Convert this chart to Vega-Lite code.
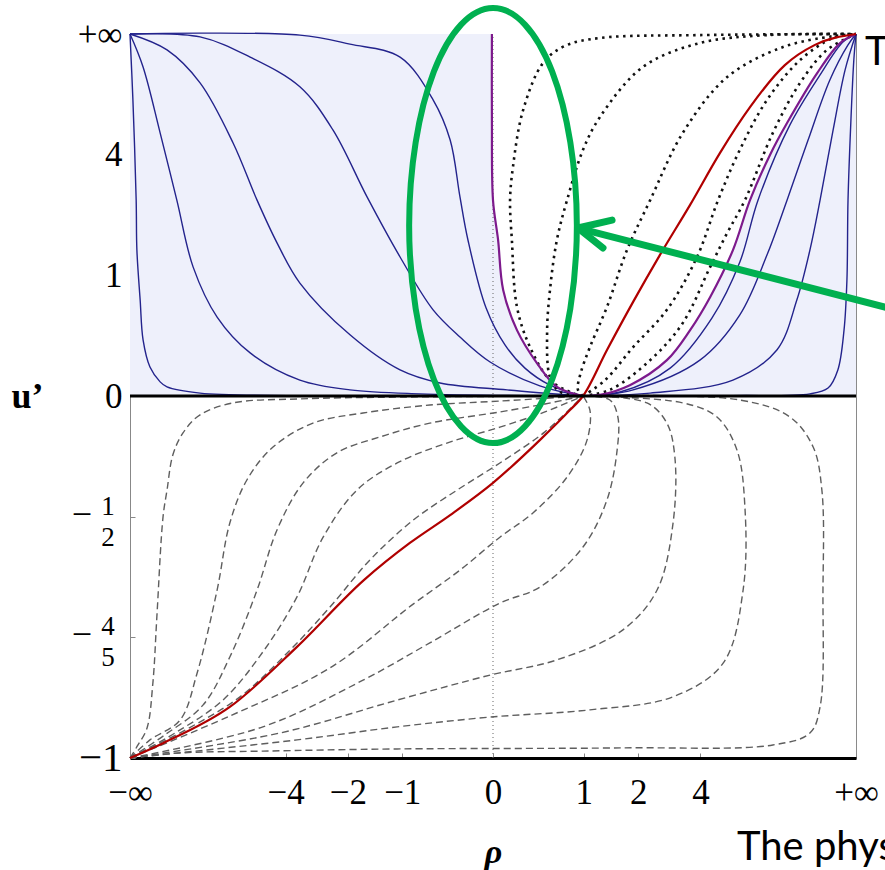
{
"$schema": "https://vega.github.io/schema/vega-lite/v6.json",
"width": 726, "height": 724,
"autosize": {"type": "none"},
"padding": {"left": 130, "top": 34, "right": 29, "bottom": 112},
"background": "white",
"config": {"view": {"stroke": "#8a8a8a", "strokeWidth": 1}},
"datasets": {
"white": [
{"y":0,"xl":0.248,"xr":0.248},{"y":0.008,"xl":0.223,"xr":0.311},{"y":0.025,"xl":0.176,"xr":0.361},{"y":0.058,"xl":0.149,"xr":0.419},{"y":0.091,"xl":0.121,"xr":0.466},{"y":0.182,"xl":0.066,"xr":0.543},{"y":0.293,"xl":0.028,"xr":0.609},{"y":0.431,"xl":0.014,"xr":0.669},{"y":0.541,"xl":0,"xr":0.708},{"y":0.68,"xl":-0.003,"xr":0.769},{"y":0.754,"xl":-0.003,"xr":0.81},{"y":0.892,"xl":-0.003,"xr":0.893},{"y":0.975,"xl":-0.003,"xr":0.956},{"y":1,"xl":-0.003,"xr":1}
],
"curves": [
{"c":"B1","k":"b","i":0,"x":-1,"y":1},{"c":"B1","k":"b","i":1,"x":-0.992,"y":0.818},{"c":"B1","k":"b","i":2,"x":-0.983,"y":0.541},{"c":"B1","k":"b","i":3,"x":-0.981,"y":0.403},{"c":"B1","k":"b","i":4,"x":-0.972,"y":0.265},{"c":"B1","k":"b","i":5,"x":-0.964,"y":0.155},{"c":"B1","k":"b","i":6,"x":-0.945,"y":0.08},{"c":"B1","k":"b","i":7,"x":-0.917,"y":0.039},{"c":"B1","k":"b","i":8,"x":-0.898,"y":0.025},{"c":"B1","k":"b","i":9,"x":-0.807,"y":0.008},{"c":"B1","k":"b","i":10,"x":-0.532,"y":0.001},{"c":"B1","k":"b","i":11,"x":0.248,"y":0},
{"c":"B2","k":"b","i":0,"x":-1,"y":1},{"c":"B2","k":"b","i":1,"x":-0.964,"y":0.909},{"c":"B2","k":"b","i":2,"x":-0.917,"y":0.727},{"c":"B2","k":"b","i":3,"x":-0.871,"y":0.541},{"c":"B2","k":"b","i":4,"x":-0.826,"y":0.356},{"c":"B2","k":"b","i":5,"x":-0.76,"y":0.218},{"c":"B2","k":"b","i":6,"x":-0.669,"y":0.119},{"c":"B2","k":"b","i":7,"x":-0.532,"y":0.044},{"c":"B2","k":"b","i":8,"x":-0.394,"y":0.017},{"c":"B2","k":"b","i":9,"x":-0.201,"y":0.006},{"c":"B2","k":"b","i":10,"x":0.248,"y":0},
{"c":"B3","k":"b","i":0,"x":-1,"y":1},{"c":"B3","k":"b","i":1,"x":-0.898,"y":0.956},{"c":"B3","k":"b","i":2,"x":-0.807,"y":0.865},{"c":"B3","k":"b","i":3,"x":-0.716,"y":0.699},{"c":"B3","k":"b","i":4,"x":-0.65,"y":0.541},{"c":"B3","k":"b","i":5,"x":-0.595,"y":0.423},{"c":"B3","k":"b","i":6,"x":-0.532,"y":0.312},{"c":"B3","k":"b","i":7,"x":-0.394,"y":0.169},{"c":"B3","k":"b","i":8,"x":-0.256,"y":0.072},{"c":"B3","k":"b","i":9,"x":-0.146,"y":0.036},{"c":"B3","k":"b","i":10,"x":0.039,"y":0.017},{"c":"B3","k":"b","i":11,"x":0.248,"y":0},
{"c":"B4","k":"b","i":0,"x":-1,"y":1},{"c":"B4","k":"b","i":1,"x":-0.807,"y":0.992},{"c":"B4","k":"b","i":2,"x":-0.669,"y":0.936},{"c":"B4","k":"b","i":3,"x":-0.532,"y":0.854},{"c":"B4","k":"b","i":4,"x":-0.441,"y":0.735},{"c":"B4","k":"b","i":5,"x":-0.347,"y":0.55},{"c":"B4","k":"b","i":6,"x":-0.256,"y":0.384},{"c":"B4","k":"b","i":7,"x":-0.165,"y":0.238},{"c":"B4","k":"b","i":8,"x":-0.091,"y":0.163},{"c":"B4","k":"b","i":9,"x":-0.008,"y":0.094},{"c":"B4","k":"b","i":10,"x":0.129,"y":0.028},{"c":"B4","k":"b","i":11,"x":0.248,"y":0},
{"c":"B5","k":"b","i":0,"x":-1,"y":1},{"c":"B5","k":"b","i":1,"x":-0.532,"y":0.997},{"c":"B5","k":"b","i":2,"x":-0.394,"y":0.972},{"c":"B5","k":"b","i":3,"x":-0.256,"y":0.936},{"c":"B5","k":"b","i":4,"x":-0.165,"y":0.818},{"c":"B5","k":"b","i":5,"x":-0.118,"y":0.707},{"c":"B5","k":"b","i":6,"x":-0.091,"y":0.55},{"c":"B5","k":"b","i":7,"x":-0.069,"y":0.431},{"c":"B5","k":"b","i":8,"x":-0.019,"y":0.243},{"c":"B5","k":"b","i":9,"x":0.033,"y":0.141},{"c":"B5","k":"b","i":10,"x":0.088,"y":0.077},{"c":"B5","k":"b","i":11,"x":0.157,"y":0.03},{"c":"B5","k":"b","i":12,"x":0.248,"y":0},
{"c":"R0","k":"b","i":0,"x":0.248,"y":0},{"c":"R0","k":"b","i":1,"x":0.35,"y":0.011},{"c":"R0","k":"b","i":2,"x":0.488,"y":0.077},{"c":"R0","k":"b","i":3,"x":0.603,"y":0.215},{"c":"R0","k":"b","i":4,"x":0.68,"y":0.37},{"c":"R0","k":"b","i":5,"x":0.73,"y":0.541},{"c":"R0","k":"b","i":6,"x":0.818,"y":0.749},{"c":"R0","k":"b","i":7,"x":0.901,"y":0.887},{"c":"R0","k":"b","i":8,"x":0.964,"y":0.978},{"c":"R0","k":"b","i":9,"x":1,"y":1},
{"c":"R1","k":"b","i":0,"x":0.248,"y":0},{"c":"R1","k":"b","i":1,"x":0.386,"y":0.017},{"c":"R1","k":"b","i":2,"x":0.57,"y":0.099},{"c":"R1","k":"b","i":3,"x":0.68,"y":0.224},{"c":"R1","k":"b","i":4,"x":0.755,"y":0.39},{"c":"R1","k":"b","i":5,"x":0.81,"y":0.541},{"c":"R1","k":"b","i":6,"x":0.868,"y":0.707},{"c":"R1","k":"b","i":7,"x":0.928,"y":0.873},{"c":"R1","k":"b","i":8,"x":0.978,"y":0.97},{"c":"R1","k":"b","i":9,"x":1,"y":1},
{"c":"R2","k":"b","i":0,"x":0.248,"y":0},{"c":"R2","k":"b","i":1,"x":0.433,"y":0.008},{"c":"R2","k":"b","i":2,"x":0.661,"y":0.044},{"c":"R2","k":"b","i":3,"x":0.782,"y":0.127},{"c":"R2","k":"b","i":4,"x":0.837,"y":0.265},{"c":"R2","k":"b","i":5,"x":0.873,"y":0.403},{"c":"R2","k":"b","i":6,"x":0.901,"y":0.541},{"c":"R2","k":"b","i":7,"x":0.937,"y":0.735},{"c":"R2","k":"b","i":8,"x":0.97,"y":0.901},{"c":"R2","k":"b","i":9,"x":1,"y":1},
{"c":"R3","k":"b","i":0,"x":0.248,"y":0},{"c":"R3","k":"b","i":1,"x":0.661,"y":0.001},{"c":"R3","k":"b","i":2,"x":0.873,"y":0.006},{"c":"R3","k":"b","i":3,"x":0.923,"y":0.022},{"c":"R3","k":"b","i":4,"x":0.95,"y":0.072},{"c":"R3","k":"b","i":5,"x":0.967,"y":0.182},{"c":"R3","k":"b","i":6,"x":0.975,"y":0.32},{"c":"R3","k":"b","i":7,"x":0.978,"y":0.541},{"c":"R3","k":"b","i":8,"x":0.986,"y":0.762},{"c":"R3","k":"b","i":9,"x":0.994,"y":0.928},{"c":"R3","k":"b","i":10,"x":1,"y":1},
{"c":"PL","k":"p","i":0,"x":-0.003,"y":1},{"c":"PL","k":"p","i":1,"x":-0.003,"y":0.762},{"c":"PL","k":"p","i":2,"x":0,"y":0.541},{"c":"PL","k":"p","i":3,"x":0.014,"y":0.431},{"c":"PL","k":"p","i":4,"x":0.028,"y":0.293},{"c":"PL","k":"p","i":5,"x":0.066,"y":0.182},{"c":"PL","k":"p","i":6,"x":0.121,"y":0.091},{"c":"PL","k":"p","i":7,"x":0.176,"y":0.025},{"c":"PL","k":"p","i":8,"x":0.248,"y":0},
{"c":"PR","k":"p","i":0,"x":0.248,"y":0},{"c":"PR","k":"p","i":1,"x":0.295,"y":0.003},{"c":"PR","k":"p","i":2,"x":0.377,"y":0.03},{"c":"PR","k":"p","i":3,"x":0.479,"y":0.099},{"c":"PR","k":"p","i":4,"x":0.543,"y":0.182},{"c":"PR","k":"p","i":5,"x":0.598,"y":0.273},{"c":"PR","k":"p","i":6,"x":0.661,"y":0.403},{"c":"PR","k":"p","i":7,"x":0.708,"y":0.541},{"c":"PR","k":"p","i":8,"x":0.763,"y":0.666},{"c":"PR","k":"p","i":9,"x":0.81,"y":0.754},{"c":"PR","k":"p","i":10,"x":0.893,"y":0.892},{"c":"PR","k":"p","i":11,"x":0.956,"y":0.975},{"c":"PR","k":"p","i":12,"x":1,"y":1},
{"c":"Oa","k":"o","i":0,"x":0.248,"y":0},{"c":"Oa","k":"o","i":1,"x":0.22,"y":0.008},{"c":"Oa","k":"o","i":2,"x":0.157,"y":0.044},{"c":"Oa","k":"o","i":3,"x":0.102,"y":0.135},{"c":"Oa","k":"o","i":4,"x":0.066,"y":0.246},{"c":"Oa","k":"o","i":5,"x":0.052,"y":0.431},{"c":"Oa","k":"o","i":6,"x":0.047,"y":0.541},{"c":"Oa","k":"o","i":7,"x":0.055,"y":0.633},{"c":"Oa","k":"o","i":8,"x":0.083,"y":0.79},{"c":"Oa","k":"o","i":9,"x":0.138,"y":0.92},{"c":"Oa","k":"o","i":10,"x":0.198,"y":0.967},{"c":"Oa","k":"o","i":11,"x":0.295,"y":0.989},{"c":"Oa","k":"o","i":12,"x":0.57,"y":0.997},{"c":"Oa","k":"o","i":13,"x":1,"y":1},
{"c":"Ob","k":"o","i":0,"x":0.248,"y":0},{"c":"Ob","k":"o","i":1,"x":0.185,"y":0.011},{"c":"Ob","k":"o","i":2,"x":0.157,"y":0.052},{"c":"Ob","k":"o","i":3,"x":0.149,"y":0.174},{"c":"Ob","k":"o","i":4,"x":0.157,"y":0.293},{"c":"Ob","k":"o","i":5,"x":0.176,"y":0.431},{"c":"Ob","k":"o","i":6,"x":0.204,"y":0.541},{"c":"Ob","k":"o","i":7,"x":0.248,"y":0.68},{"c":"Ob","k":"o","i":8,"x":0.295,"y":0.771},{"c":"Ob","k":"o","i":9,"x":0.413,"y":0.909},{"c":"Ob","k":"o","i":10,"x":0.57,"y":0.975},{"c":"Ob","k":"o","i":11,"x":0.755,"y":0.997},{"c":"Ob","k":"o","i":12,"x":1,"y":1},
{"c":"Oc","k":"o","i":0,"x":0.248,"y":0},{"c":"Oc","k":"o","i":1,"x":0.234,"y":0.017},{"c":"Oc","k":"o","i":2,"x":0.24,"y":0.058},{"c":"Oc","k":"o","i":3,"x":0.267,"y":0.135},{"c":"Oc","k":"o","i":4,"x":0.314,"y":0.246},{"c":"Oc","k":"o","i":5,"x":0.369,"y":0.403},{"c":"Oc","k":"o","i":6,"x":0.433,"y":0.541},{"c":"Oc","k":"o","i":7,"x":0.523,"y":0.727},{"c":"Oc","k":"o","i":8,"x":0.645,"y":0.881},{"c":"Oc","k":"o","i":9,"x":0.799,"y":0.964},{"c":"Oc","k":"o","i":10,"x":0.937,"y":0.994},{"c":"Oc","k":"o","i":11,"x":1,"y":1},
{"c":"Od","k":"o","i":0,"x":0.248,"y":0},{"c":"Od","k":"o","i":1,"x":0.309,"y":0.044},{"c":"Od","k":"o","i":2,"x":0.386,"y":0.135},{"c":"Od","k":"o","i":3,"x":0.479,"y":0.238},{"c":"Od","k":"o","i":4,"x":0.562,"y":0.384},{"c":"Od","k":"o","i":5,"x":0.62,"y":0.541},{"c":"Od","k":"o","i":6,"x":0.68,"y":0.68},{"c":"Od","k":"o","i":7,"x":0.755,"y":0.818},{"c":"Od","k":"o","i":8,"x":0.846,"y":0.928},{"c":"Od","k":"o","i":9,"x":0.937,"y":0.989},{"c":"Od","k":"o","i":10,"x":1,"y":1},
{"c":"Oe","k":"o","i":0,"x":0.248,"y":0},{"c":"Oe","k":"o","i":1,"x":0.322,"y":0.017},{"c":"Oe","k":"o","i":2,"x":0.433,"y":0.099},{"c":"Oe","k":"o","i":3,"x":0.523,"y":0.202},{"c":"Oe","k":"o","i":4,"x":0.598,"y":0.356},{"c":"Oe","k":"o","i":5,"x":0.645,"y":0.45},{"c":"Oe","k":"o","i":6,"x":0.694,"y":0.541},{"c":"Oe","k":"o","i":7,"x":0.771,"y":0.727},{"c":"Oe","k":"o","i":8,"x":0.846,"y":0.865},{"c":"Oe","k":"o","i":9,"x":0.92,"y":0.956},{"c":"Oe","k":"o","i":10,"x":1,"y":1},
{"c":"RED","k":"r","i":0,"x":-1,"y":-1},{"c":"RED","k":"r","i":1,"x":-0.909,"y":-0.959},{"c":"RED","k":"r","i":2,"x":-0.725,"y":-0.859},{"c":"RED","k":"r","i":3,"x":-0.54,"y":-0.693},{"c":"RED","k":"r","i":4,"x":-0.355,"y":-0.508},{"c":"RED","k":"r","i":5,"x":-0.229,"y":-0.406},{"c":"RED","k":"r","i":6,"x":-0.118,"y":-0.329},{"c":"RED","k":"r","i":7,"x":0,"y":-0.24},{"c":"RED","k":"r","i":8,"x":0.129,"y":-0.122},{"c":"RED","k":"r","i":9,"x":0.212,"y":-0.039},{"c":"RED","k":"r","i":10,"x":0.248,"y":0},{"c":"RED","k":"r","i":11,"x":0.314,"y":0.127},{"c":"RED","k":"r","i":12,"x":0.386,"y":0.26},{"c":"RED","k":"r","i":13,"x":0.46,"y":0.39},{"c":"RED","k":"r","i":14,"x":0.543,"y":0.528},{"c":"RED","k":"r","i":15,"x":0.625,"y":0.671},{"c":"RED","k":"r","i":16,"x":0.708,"y":0.798},{"c":"RED","k":"r","i":17,"x":0.804,"y":0.914},{"c":"RED","k":"r","i":18,"x":0.887,"y":0.97},{"c":"RED","k":"r","i":19,"x":1,"y":1},
{"c":"D1","k":"d","i":0,"x":-1,"y":-1},{"c":"D1","k":"d","i":1,"x":-0.978,"y":-0.964},{"c":"D1","k":"d","i":2,"x":-0.953,"y":-0.917},{"c":"D1","k":"d","i":3,"x":-0.937,"y":-0.793},{"c":"D1","k":"d","i":4,"x":-0.926,"y":-0.61},{"c":"D1","k":"d","i":5,"x":-0.909,"y":-0.334},{"c":"D1","k":"d","i":6,"x":-0.898,"y":-0.26},{"c":"D1","k":"d","i":7,"x":-0.882,"y":-0.163},{"c":"D1","k":"d","i":8,"x":-0.854,"y":-0.102},{"c":"D1","k":"d","i":9,"x":-0.807,"y":-0.052},{"c":"D1","k":"d","i":10,"x":-0.716,"y":-0.019},{"c":"D1","k":"d","i":11,"x":-0.532,"y":-0.008},{"c":"D1","k":"d","i":12,"x":-0.256,"y":-0.003},{"c":"D1","k":"d","i":13,"x":0.248,"y":0},
{"c":"D2","k":"d","i":0,"x":-1,"y":-1},{"c":"D2","k":"d","i":1,"x":-0.945,"y":-0.95},{"c":"D2","k":"d","i":2,"x":-0.862,"y":-0.895},{"c":"D2","k":"d","i":3,"x":-0.815,"y":-0.765},{"c":"D2","k":"d","i":4,"x":-0.76,"y":-0.536},{"c":"D2","k":"d","i":5,"x":-0.725,"y":-0.351},{"c":"D2","k":"d","i":6,"x":-0.678,"y":-0.232},{"c":"D2","k":"d","i":7,"x":-0.606,"y":-0.141},{"c":"D2","k":"d","i":8,"x":-0.496,"y":-0.075},{"c":"D2","k":"d","i":9,"x":-0.358,"y":-0.047},{"c":"D2","k":"d","i":10,"x":-0.174,"y":-0.025},{"c":"D2","k":"d","i":11,"x":0.019,"y":-0.014},{"c":"D2","k":"d","i":12,"x":0.248,"y":0},
{"c":"D3","k":"d","i":0,"x":-1,"y":-1},{"c":"D3","k":"d","i":1,"x":-0.904,"y":-0.936},{"c":"D3","k":"d","i":2,"x":-0.799,"y":-0.854},{"c":"D3","k":"d","i":3,"x":-0.725,"y":-0.721},{"c":"D3","k":"d","i":4,"x":-0.65,"y":-0.536},{"c":"D3","k":"d","i":5,"x":-0.595,"y":-0.37},{"c":"D3","k":"d","i":6,"x":-0.523,"y":-0.24},{"c":"D3","k":"d","i":7,"x":-0.43,"y":-0.157},{"c":"D3","k":"d","i":8,"x":-0.311,"y":-0.113},{"c":"D3","k":"d","i":9,"x":-0.174,"y":-0.075},{"c":"D3","k":"d","i":10,"x":0.019,"y":-0.044},{"c":"D3","k":"d","i":11,"x":0.143,"y":-0.022},{"c":"D3","k":"d","i":12,"x":0.248,"y":0},
{"c":"D4","k":"d","i":0,"x":-1,"y":-1},{"c":"D4","k":"d","i":1,"x":-0.876,"y":-0.931},{"c":"D4","k":"d","i":2,"x":-0.744,"y":-0.84},{"c":"D4","k":"d","i":3,"x":-0.634,"y":-0.707},{"c":"D4","k":"d","i":4,"x":-0.54,"y":-0.555},{"c":"D4","k":"d","i":5,"x":-0.468,"y":-0.39},{"c":"D4","k":"d","i":6,"x":-0.375,"y":-0.26},{"c":"D4","k":"d","i":7,"x":-0.264,"y":-0.185},{"c":"D4","k":"d","i":8,"x":-0.127,"y":-0.13},{"c":"D4","k":"d","i":9,"x":0.019,"y":-0.086},{"c":"D4","k":"d","i":10,"x":0.143,"y":-0.044},{"c":"D4","k":"d","i":11,"x":0.248,"y":0},
{"c":"D5","k":"d","i":0,"x":-1,"y":-1},{"c":"D5","k":"d","i":1,"x":-0.848,"y":-0.923},{"c":"D5","k":"d","i":2,"x":-0.697,"y":-0.831},{"c":"D5","k":"d","i":3,"x":-0.559,"y":-0.702},{"c":"D5","k":"d","i":4,"x":-0.449,"y":-0.583},{"c":"D5","k":"d","i":5,"x":-0.339,"y":-0.453},{"c":"D5","k":"d","i":6,"x":-0.22,"y":-0.343},{"c":"D5","k":"d","i":7,"x":-0.099,"y":-0.26},{"c":"D5","k":"d","i":8,"x":0.019,"y":-0.185},{"c":"D5","k":"d","i":9,"x":0.143,"y":-0.099},{"c":"D5","k":"d","i":10,"x":0.248,"y":0},
{"c":"D6","k":"d","i":0,"x":-1,"y":-1},{"c":"D6","k":"d","i":1,"x":-0.725,"y":-0.884},{"c":"D6","k":"d","i":2,"x":-0.449,"y":-0.751},{"c":"D6","k":"d","i":3,"x":-0.22,"y":-0.575},{"c":"D6","k":"d","i":4,"x":-0.091,"y":-0.481},{"c":"D6","k":"d","i":5,"x":0.019,"y":-0.39},{"c":"D6","k":"d","i":6,"x":0.11,"y":-0.323},{"c":"D6","k":"d","i":7,"x":0.204,"y":-0.224},{"c":"D6","k":"d","i":8,"x":0.259,"y":-0.122},{"c":"D6","k":"d","i":9,"x":0.267,"y":-0.039},{"c":"D6","k":"d","i":10,"x":0.248,"y":0},
{"c":"D7","k":"d","i":0,"x":-1,"y":-1},{"c":"D7","k":"d","i":1,"x":-0.634,"y":-0.914},{"c":"D7","k":"d","i":2,"x":-0.358,"y":-0.785},{"c":"D7","k":"d","i":3,"x":-0.174,"y":-0.682},{"c":"D7","k":"d","i":4,"x":0.019,"y":-0.572},{"c":"D7","k":"d","i":5,"x":0.129,"y":-0.528},{"c":"D7","k":"d","i":6,"x":0.248,"y":-0.417},{"c":"D7","k":"d","i":7,"x":0.314,"y":-0.287},{"c":"D7","k":"d","i":8,"x":0.342,"y":-0.149},{"c":"D7","k":"d","i":9,"x":0.344,"y":-0.058},{"c":"D7","k":"d","i":10,"x":0.322,"y":-0.011},{"c":"D7","k":"d","i":11,"x":0.248,"y":0},
{"c":"D8","k":"d","i":0,"x":-1,"y":-1},{"c":"D8","k":"d","i":1,"x":-0.587,"y":-0.931},{"c":"D8","k":"d","i":2,"x":-0.264,"y":-0.84},{"c":"D8","k":"d","i":3,"x":-0.008,"y":-0.771},{"c":"D8","k":"d","i":4,"x":0.176,"y":-0.729},{"c":"D8","k":"d","i":5,"x":0.358,"y":-0.646},{"c":"D8","k":"d","i":6,"x":0.452,"y":-0.536},{"c":"D8","k":"d","i":7,"x":0.496,"y":-0.351},{"c":"D8","k":"d","i":8,"x":0.501,"y":-0.169},{"c":"D8","k":"d","i":9,"x":0.479,"y":-0.075},{"c":"D8","k":"d","i":10,"x":0.424,"y":-0.019},{"c":"D8","k":"d","i":11,"x":0.248,"y":0},
{"c":"D9","k":"d","i":0,"x":-1,"y":-1},{"c":"D9","k":"d","i":1,"x":-0.54,"y":-0.95},{"c":"D9","k":"d","i":2,"x":-0.264,"y":-0.914},{"c":"D9","k":"d","i":3,"x":-0.008,"y":-0.887},{"c":"D9","k":"d","i":4,"x":0.267,"y":-0.867},{"c":"D9","k":"d","i":5,"x":0.496,"y":-0.831},{"c":"D9","k":"d","i":6,"x":0.634,"y":-0.738},{"c":"D9","k":"d","i":7,"x":0.689,"y":-0.536},{"c":"D9","k":"d","i":8,"x":0.694,"y":-0.307},{"c":"D9","k":"d","i":9,"x":0.672,"y":-0.149},{"c":"D9","k":"d","i":10,"x":0.617,"y":-0.058},{"c":"D9","k":"d","i":11,"x":0.523,"y":-0.019},{"c":"D9","k":"d","i":12,"x":0.248,"y":0},
{"c":"D10","k":"d","i":0,"x":-1,"y":-1},{"c":"D10","k":"d","i":1,"x":-0.862,"y":-0.986},{"c":"D10","k":"d","i":2,"x":-0.634,"y":-0.981},{"c":"D10","k":"d","i":3,"x":-0.264,"y":-0.975},{"c":"D10","k":"d","i":4,"x":0.358,"y":-0.972},{"c":"D10","k":"d","i":5,"x":0.771,"y":-0.964},{"c":"D10","k":"d","i":6,"x":0.873,"y":-0.931},{"c":"D10","k":"d","i":7,"x":0.901,"y":-0.859},{"c":"D10","k":"d","i":8,"x":0.909,"y":-0.536},{"c":"D10","k":"d","i":9,"x":0.906,"y":-0.26},{"c":"D10","k":"d","i":10,"x":0.882,"y":-0.141},{"c":"D10","k":"d","i":11,"x":0.818,"y":-0.058},{"c":"D10","k":"d","i":12,"x":0.68,"y":-0.011},{"c":"D10","k":"d","i":13,"x":0.248,"y":0}
],
"ellipse": [
{"i":0,"x":0.231,"y":0.471},{"i":1,"x":0.213,"y":0.701},{"i":2,"x":0.163,"y":0.896},{"i":3,"x":0.088,"y":1.026},{"i":4,"x":0,"y":1.072},{"i":5,"x":-0.088,"y":1.026},{"i":6,"x":-0.163,"y":0.896},{"i":7,"x":-0.213,"y":0.701},{"i":8,"x":-0.231,"y":0.471},{"i":9,"x":-0.213,"y":0.241},{"i":10,"x":-0.163,"y":0.046},{"i":11,"x":-0.088,"y":-0.084},{"i":12,"x":0,"y":-0.13},{"i":13,"x":0.088,"y":-0.084},{"i":14,"x":0.163,"y":0.046},{"i":15,"x":0.213,"y":0.241}
],
"arrow": [
{"x":1.09,"y":0.243,"x2":0.234,"y2":0.464},{"x":0.234,"y":0.464,"x2":0.328,"y2":0.486},{"x":0.234,"y":0.464,"x2":0.303,"y2":0.409}
],
"frac": [
{"y":-0.3333,"m":"−","n":"1","d":"2"},{"y":-0.6667,"m":"−","n":"4","d":"5"}
]
},
"layer": [
{"data": {"values": [{}]},
 "mark": {"type": "rect", "color": "#eef0fb"},
 "encoding": {
  "x": {"datum": -1, "type": "quantitative", "scale": {"domain": [-1, 1], "nice": false, "zero": false},
   "axis": {"values": [-1, -0.5714, -0.4, -0.25, 0, 0.25, 0.4, 0.5714, 1],
    "labelExpr": "datum.value < -0.9 ? '−∞' : datum.value < -0.5 ? '−4' : datum.value < -0.3 ? '−2' : datum.value < -0.1 ? '−1' : datum.value < 0.1 ? '0' : datum.value < 0.3 ? '1' : datum.value < 0.5 ? '2' : datum.value < 0.9 ? '4' : '+∞'",
    "labelFont": "Liberation Serif", "labelFontSize": 35, "labelColor": "black", "labelPadding": 22,
    "labelOverlap": false, "labelFlush": false, "labelBound": false,
    "tickSize": -5, "tickColor": "#888", "tickWidth": 1,
    "domainColor": "black", "domainWidth": 3, "grid": false,
    "title": "ρ", "titleFont": "Liberation Serif", "titleFontSize": 34, "titleFontStyle": "italic", "titleFontWeight": "bold", "titleColor": "black",
    "titleX": 363, "titleY": 104, "titleAlign": "center", "titleBaseline": "alphabetic"}},
  "x2": {"datum": 1},
  "y": {"datum": 0, "type": "quantitative", "scale": {"domain": [-1, 1], "nice": false, "zero": false},
   "axis": {"values": [-1, -0.6667, -0.3333, 0, 0.3333, 0.6667, 1],
    "labelExpr": "datum.value < -0.9 ? '−1' : datum.value < -0.1 ? '' : datum.value < 0.1 ? '0' : datum.value < 0.5 ? '1' : datum.value < 0.9 ? '4' : '+∞'",
    "labelFont": "Liberation Serif", "labelFontSize": {"condition": {"test": "datum.value < -0.9", "value": 41}, "value": 35}, "labelColor": "black", "labelPadding": 13,
    "labelOverlap": false, "labelFlush": false, "labelBound": false,
    "tickSize": -5, "tickColor": "#888", "tickWidth": 1,
    "domainColor": "#888", "domainWidth": 1, "grid": false,
    "title": "u’", "titleFont": "Liberation Serif", "titleFontSize": 36, "titleFontWeight": "bold", "titleColor": "black",
    "titleAngle": 0, "titleX": -103, "titleY": 373, "titleAlign": "center", "titleBaseline": "alphabetic"}},
  "y2": {"datum": 1}
 }},
{"data": {"name": "white"},
 "mark": {"type": "area", "orient": "horizontal", "color": "white", "interpolate": "monotone"},
 "encoding": {"y": {"field": "y", "type": "quantitative"}, "x": {"field": "xl", "type": "quantitative"}, "x2": {"field": "xr"}}},
{"data": {"values": [{}]},
 "mark": {"type": "rule", "color": "#666", "strokeWidth": 1, "strokeDash": [1, 3]},
 "encoding": {"x": {"datum": 0, "type": "quantitative"}, "y": {"datum": -1, "type": "quantitative"}, "y2": {"datum": 1}}},
{"data": {"name": "curves"}, "transform": [{"filter": "datum.k === 'b'"}],
 "mark": {"type": "line", "interpolate": "catmull-rom", "color": "#23238c", "strokeWidth": 1.4},
 "encoding": {"x": {"field": "x", "type": "quantitative"}, "y": {"field": "y", "type": "quantitative"}, "detail": {"field": "c"}, "order": {"field": "i"}}},
{"data": {"name": "curves"}, "transform": [{"filter": "datum.k === 'd'"}],
 "mark": {"type": "line", "interpolate": "catmull-rom", "color": "#5e5e5e", "strokeWidth": 1.4, "strokeDash": [7, 4]},
 "encoding": {"x": {"field": "x", "type": "quantitative"}, "y": {"field": "y", "type": "quantitative"}, "detail": {"field": "c"}, "order": {"field": "i"}}},
{"data": {"name": "curves"}, "transform": [{"filter": "datum.k === 'o'"}],
 "mark": {"type": "line", "interpolate": "catmull-rom", "color": "#111111", "strokeWidth": 2.6, "strokeDash": [2.5, 4.5]},
 "encoding": {"x": {"field": "x", "type": "quantitative"}, "y": {"field": "y", "type": "quantitative"}, "detail": {"field": "c"}, "order": {"field": "i"}}},
{"data": {"name": "curves"}, "transform": [{"filter": "datum.k === 'p'"}],
 "mark": {"type": "line", "interpolate": "catmull-rom", "color": "#7d1a8c", "strokeWidth": 2.2},
 "encoding": {"x": {"field": "x", "type": "quantitative"}, "y": {"field": "y", "type": "quantitative"}, "detail": {"field": "c"}, "order": {"field": "i"}}},
{"data": {"name": "curves"}, "transform": [{"filter": "datum.k === 'r'"}],
 "mark": {"type": "line", "interpolate": "monotone", "color": "#b00000", "strokeWidth": 2.2},
 "encoding": {"x": {"field": "x", "type": "quantitative"}, "y": {"field": "y", "type": "quantitative"}, "detail": {"field": "c"}, "order": {"field": "i"}}},
{"data": {"values": [{}]},
 "mark": {"type": "rule", "color": "black", "strokeWidth": 3},
 "encoding": {"y": {"datum": 0, "type": "quantitative"}, "x": {"datum": -1, "type": "quantitative"}, "x2": {"datum": 1}}},
{"data": {"name": "ellipse"},
 "mark": {"type": "line", "interpolate": "cardinal-closed", "color": "#00b050", "strokeWidth": 6},
 "encoding": {"x": {"field": "x", "type": "quantitative"}, "y": {"field": "y", "type": "quantitative"}, "order": {"field": "i"}}},
{"data": {"name": "arrow"},
 "mark": {"type": "rule", "color": "#00b050", "strokeWidth": 7, "strokeCap": "round"},
 "encoding": {"x": {"field": "x", "type": "quantitative"}, "y": {"field": "y", "type": "quantitative"}, "x2": {"field": "x2"}, "y2": {"field": "y2"}}},
{"data": {"name": "frac"},
 "mark": {"type": "text", "font": "Liberation Serif", "fontSize": 36, "align": "center", "baseline": "middle", "dx": -48, "dy": -2, "color": "black"},
 "encoding": {"x": {"datum": -1, "type": "quantitative"}, "y": {"field": "y", "type": "quantitative"}, "text": {"field": "m"}}},
{"data": {"name": "frac"},
 "mark": {"type": "text", "font": "Liberation Serif", "fontSize": 27, "align": "center", "baseline": "alphabetic", "dx": -22, "dy": -2, "color": "black"},
 "encoding": {"x": {"datum": -1, "type": "quantitative"}, "y": {"field": "y", "type": "quantitative"}, "text": {"field": "n"}}},
{"data": {"name": "frac"},
 "mark": {"type": "text", "font": "Liberation Serif", "fontSize": 27, "align": "center", "baseline": "alphabetic", "dx": -22, "dy": 29, "color": "black"},
 "encoding": {"x": {"datum": -1, "type": "quantitative"}, "y": {"field": "y", "type": "quantitative"}, "text": {"field": "d"}}},
{"data": {"values": [{"t": "T", "x": 1.025, "y": 0.914}, {"t": "The phys", "x": 0.672, "y": -1.282}]},
 "mark": {"type": "text", "font": "Lato", "fontSize": 40, "align": "left", "baseline": "alphabetic", "color": "black"},
 "encoding": {"x": {"field": "x", "type": "quantitative"}, "y": {"field": "y", "type": "quantitative"}, "text": {"field": "t"}}}
]
}
